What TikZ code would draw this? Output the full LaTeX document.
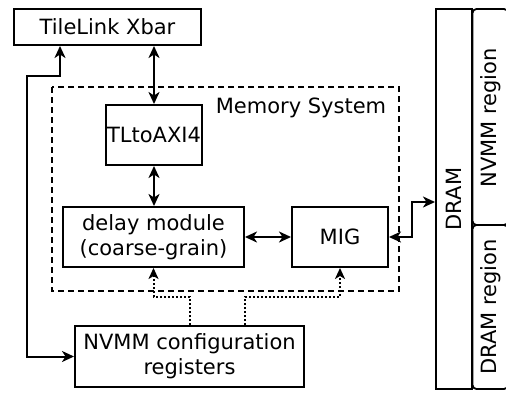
\documentclass[tikz,border=0pt]{standalone}
\usepackage{fontspec}
\setmainfont{DejaVu Sans}
\usetikzlibrary{arrows.meta}
\begin{document}
\begin{tikzpicture}[x=1pt,y=-1pt,
  every node/.style={font=\fontsize{21}{25}\selectfont},
  blk/.style={draw,line width=2pt,inner sep=0pt,align=center},
  region/.style={draw,line width=1.8pt,rounded corners=4pt},
  frame/.style={draw,line width=1.8pt,dash pattern=on 6pt off 4pt},
  tip/.style={Stealth[length=12pt,width=11pt,inset=3.5pt]},
  biarrow/.style={line width=2pt,{Stealth[length=12pt,width=11pt,inset=3.5pt]}-{Stealth[length=12pt,width=11pt,inset=3.5pt]}},
  ctrl/.style={line width=2pt,dash pattern=on 2pt off 2pt,-{Stealth[length=11pt,width=10pt,inset=3pt]}}]
\useasboundingbox (0,0) rectangle (506,394);

% memory system boundary
\draw[frame] (52,87) rectangle (399,291);
\node (memlabel) at (301,108) {Memory System};

% blocks
\node[blk,minimum width=187pt,minimum height=36pt] (xbar) at (107.5,27) {TileLink Xbar};
\node[blk,minimum width=96pt,minimum height=60pt] (tl) at (154,135) {TLtoAXI4};
\node[blk,minimum width=181pt,minimum height=60pt] (delay) at (153.5,237) {delay module\\(coarse-grain)};
\node[blk,minimum width=96pt,minimum height=60pt] (mig) at (340,237) {MIG};
\node[blk,minimum width=229pt,minimum height=61pt] (nvmm) at (189.5,356.5) {NVMM configuration\\registers};

% DRAM and its two regions
\node[blk,minimum width=36pt,minimum height=380pt] (dram) at (454,199) {};
\node[rotate=90] (dramlabel) at (dram.center) {DRAM};
\draw[region] (472.5,9) rectangle (508,225);
\draw[region] (472.5,225) rectangle (508,389);
\node[rotate=90] (nvmmreg) at (491,118) {NVMM region};
\node[rotate=90] (dramreg) at (491,307) {DRAM region};

% data paths
\draw[biarrow] (tl.north |- xbar.south) -- (tl.north);
\draw[biarrow] (tl.south) -- (tl.south |- delay.north);
\draw[biarrow] (delay.east) -- (mig.west);
\coordinate (bend) at (412,202);
\draw[biarrow] (mig.east) -| (bend) -- (bend -| dram.west);

% configuration bus
\coordinate (lbus) at (27,76);
\draw[biarrow] (nvmm.west) -| (lbus) -| ([xshift=47pt]xbar.south west);

% control lines from the configuration registers
\coordinate (dotlevel) at (0,297);
\coordinate (ctrlb) at ([xshift=171pt]nvmm.north west);
\draw[ctrl] (nvmm.north) -- (nvmm.north |- dotlevel) -| (delay.south);
\draw[ctrl] (ctrlb) -- (ctrlb |- dotlevel) -| (mig.south);
\end{tikzpicture}
\end{document}
